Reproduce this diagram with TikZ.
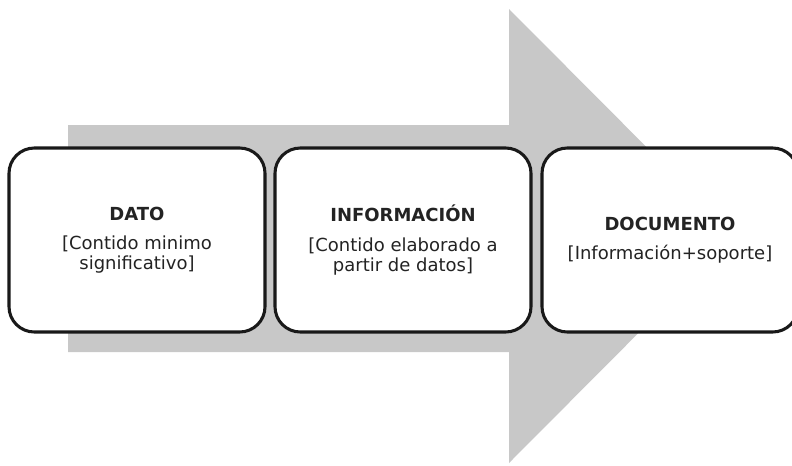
\documentclass[tikz,border=0pt]{standalone}
\usepackage{fontspec}
\setmainfont{DejaVu Sans}
\usepackage{tikz}
\definecolor{flecha}{RGB}{200,200,200}
\definecolor{texto}{RGB}{35,35,35}
\tikzset{caja/.style={draw=black!90,line width=2.3pt,fill=white,rounded corners=19pt,
  minimum width=192pt,minimum height=138pt,align=center,text=texto,font=\fontsize{13.5}{15}\selectfont}}

\begin{document}
\begin{tikzpicture}[x=0.75pt,y=-0.75pt]
\useasboundingbox (0,0) rectangle (792,465);
\clip (0,0) rectangle (792,465);
% flecha de fondo
\fill[flecha] (68,125)--(509,125)--(509,9)--(735,236)--(509,463)--(509,352)--(68,352)--cycle;
\node[caja] (dato) at (137,240) {{\bfseries DATO}\\[7pt][Contido minimo\\significativo]};
\node[caja] (info) at (403,240) {{\bfseries INFORMACIÓN}\\[7pt][Contido elaborado a\\partir de datos]};
\node[caja] (doc) at (670,240) {{\bfseries DOCUMENTO}\\[7pt][Información+soporte]};
\end{tikzpicture}
\end{document}
